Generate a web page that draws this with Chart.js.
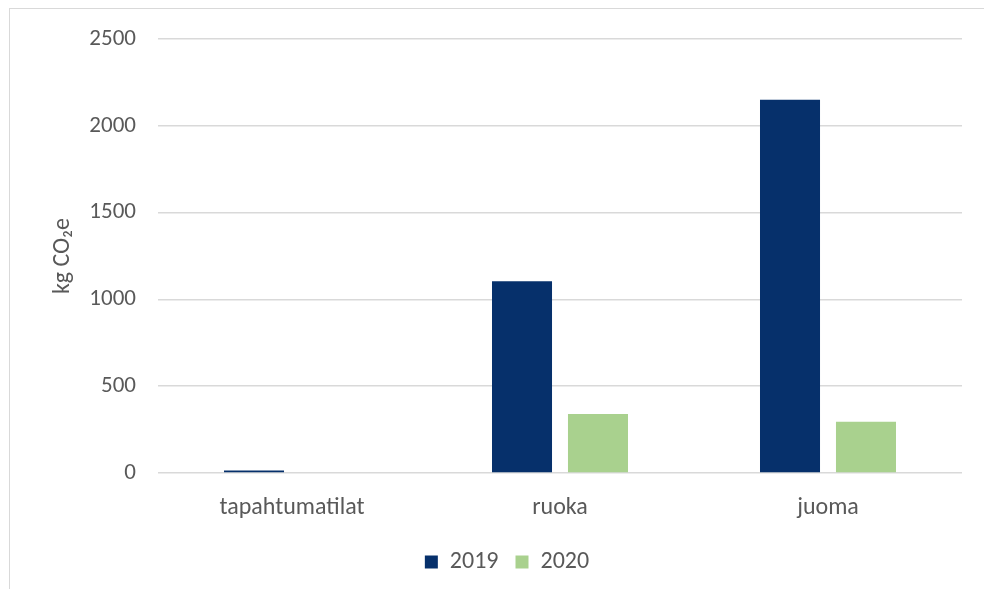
<!DOCTYPE html>
<html>
<head>
<meta charset="utf-8">
<script src="https://cdn.jsdelivr.net/npm/chart.js@4"></script>
<style>
  html, body { margin: 0; padding: 0; background: #fff; }
  #wrap { position: absolute; left: 0; top: 0; width: 984px; height: 589px; }
  #frame { position: absolute; left: 9px; top: 8px; width: 1200px; height: 1200px;
           border: 1.5px solid #d9d9d9; box-sizing: border-box; }
</style>
</head>
<body>
<div id="frame"></div>
<div id="wrap"><canvas id="co2Chart" width="984" height="589"></canvas></div>
<script>
const categories = ["tapahtumatilat", "ruoka", "juoma"];
const values2019 = [15, 1105, 2150];
const values2020 = [0, 340, 295];
const yTicks = [0, 500, 1000, 1500, 2000, 2500];

const textColor = "#595959";
const fontFamily = "Carlito, Lato, 'Open Sans', sans-serif";

// nudge the legend a bit to the right, under the plot
const legendShift = {
  id: "legendShift",
  afterLayout(chart) {
    chart.legend.left += 26;
    chart.legend.right += 26;
  },
};

const ctx = document.getElementById("co2Chart").getContext("2d");

new Chart(ctx, {
  type: "bar",
  data: {
    labels: categories,
    datasets: [
      {
        label: "2019",
        data: values2019,
        backgroundColor: "#06306b",
        categoryPercentage: 0.567,
        barPercentage: 0.79,
      },
      {
        label: "2020",
        data: values2020,
        backgroundColor: "#a9d18e",
        categoryPercentage: 0.567,
        barPercentage: 0.79,
      },
    ],
  },
  plugins: [legendShift],
  options: {
    responsive: false,
    animation: false,
    layout: { padding: { left: 0, right: 22, top: 39, bottom: 5 } },
    plugins: {
      tooltip: { enabled: false },
      legend: {
        display: true,
        position: "bottom",
        labels: {
          color: textColor,
          font: { family: fontFamily, size: 24 },
          boxWidth: 13,
          boxHeight: 13,
          padding: 17,
        },
      },
    },
    scales: {
      x: {
        grid: { display: false },
        border: { display: false },
        ticks: {
          color: textColor,
          font: { family: fontFamily, size: 24 },
          padding: 13,
        },
        afterFit: (scale) => { scale.height = 60; },
      },
      y: {
        min: 0,
        max: 2500,
        afterBuildTicks: (scale) => {
          scale.ticks = yTicks.map((v) => ({ value: v }));
        },
        grid: { color: "#d9d9d9", lineWidth: 1.5, drawTicks: false },
        border: { display: false },
        ticks: {
          color: textColor,
          font: { family: fontFamily, size: 23 },
          padding: 22,
          callback: (value) => String(value),
        },
        title: {
          display: true,
          text: "kg CO₂e",
          color: textColor,
          font: { family: fontFamily, size: 24 },
          padding: { top: 49, bottom: 0 },
        },
        afterFit: (scale) => { scale.width = 158; },
      },
    },
  },
});
</script>
</body>
</html>
